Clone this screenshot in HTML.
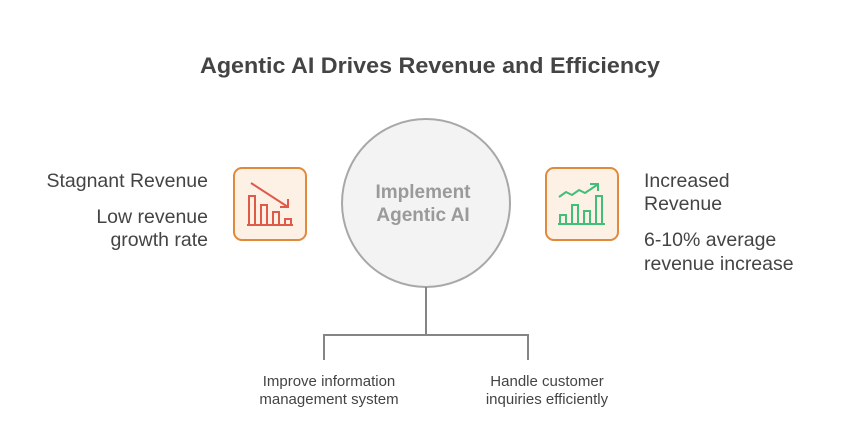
<!DOCTYPE html>
<html><head><meta charset="utf-8"><style>
body{margin:0;background:#fff;}
svg text{font-family:"Liberation Sans",Arial,sans-serif;}
</style></head><body>
<svg width="858" height="441" viewBox="0 0 858 441" xmlns="http://www.w3.org/2000/svg">
<rect width="858" height="441" fill="#fff"/>
<text x="430" y="73" text-anchor="middle" font-size="22" font-weight="bold" fill="#444" textLength="460" lengthAdjust="spacingAndGlyphs">Agentic AI Drives Revenue and Efficiency</text>
<circle cx="426" cy="203" r="84" fill="#f3f3f3" stroke="#a8a8a8" stroke-width="2"/>
<text x="423" y="198" text-anchor="middle" font-size="19" font-weight="bold" fill="#9a9a9a">Implement</text>
<text x="423" y="221" text-anchor="middle" font-size="19" font-weight="bold" fill="#9a9a9a">Agentic AI</text>
<g stroke="#858585" stroke-width="2" fill="none">
<path d="M426 287V335M324 360V335H528V360"/>
</g>
<rect x="234" y="168" width="72" height="72" rx="8" fill="#fdf0e4" stroke="#e08a3c" stroke-width="2"/>
<g stroke="#e05a4a" stroke-width="2" fill="none">
<path d="M247 225H293"/>
<rect x="249" y="196" width="6" height="29"/><rect x="261" y="205" width="6" height="20"/><rect x="273" y="212" width="6" height="13"/><rect x="285" y="219" width="6" height="6"/>
<path d="M251 183L288 207M280 207H288V199"/>
</g>
<rect x="546" y="168" width="72" height="72" rx="8" fill="#fdf0e4" stroke="#e08a3c" stroke-width="2"/>
<g stroke="#3fbf7a" stroke-width="2" fill="none">
<path d="M558 224H605"/>
<rect x="560" y="215" width="6" height="9"/><rect x="572" y="205" width="6" height="19"/><rect x="584" y="211" width="6" height="13"/><rect x="596" y="196" width="6" height="28"/>
<path d="M559 197L566 192L572 195L579 190L585 193L597 185M590 184H598V191"/>
</g>
<g font-size="19.5" fill="#444">
<text x="208" y="187" text-anchor="end">Stagnant Revenue</text>
<text x="208" y="223" text-anchor="end">Low revenue</text>
<text x="208" y="246" text-anchor="end">growth rate</text>
<text x="644" y="187">Increased</text>
<text x="644" y="210">Revenue</text>
<text x="644" y="246">6-10% average</text>
<text x="644" y="270">revenue increase</text>
</g>
<g font-size="15" fill="#444" text-anchor="middle">
<text x="329" y="386">Improve information</text>
<text x="329" y="404">management system</text>
<text x="547" y="386">Handle customer</text>
<text x="547" y="404">inquiries efficiently</text>
</g>
</svg>
</body></html>
